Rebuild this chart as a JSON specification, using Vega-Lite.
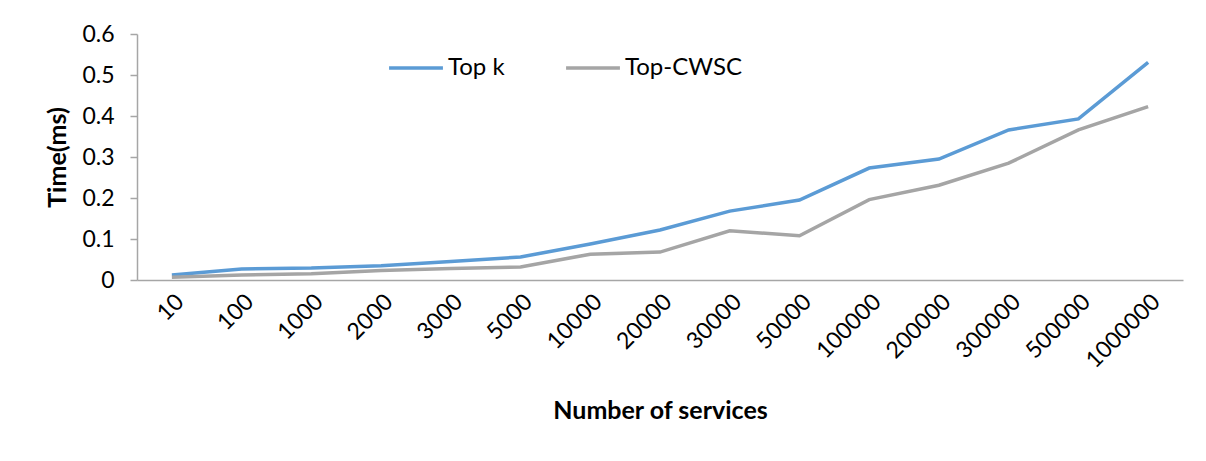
{
  "$schema": "https://vega.github.io/schema/vega-lite/v6.json",
  "autosize": "none",
  "width": 1046,
  "height": 246,
  "padding": {"left": 137, "top": 34, "right": 23, "bottom": 181},
  "background": "white",
  "config": {
    "font": "Lato",
    "view": {"stroke": null}
  },
  "data": {
    "values": [
      {"n": "10", "series": "Top k", "time": 0.012},
      {"n": "100", "series": "Top k", "time": 0.027},
      {"n": "1000", "series": "Top k", "time": 0.029},
      {"n": "2000", "series": "Top k", "time": 0.035},
      {"n": "3000", "series": "Top k", "time": 0.045},
      {"n": "5000", "series": "Top k", "time": 0.056},
      {"n": "10000", "series": "Top k", "time": 0.088},
      {"n": "20000", "series": "Top k", "time": 0.122},
      {"n": "30000", "series": "Top k", "time": 0.168},
      {"n": "50000", "series": "Top k", "time": 0.195},
      {"n": "100000", "series": "Top k", "time": 0.273},
      {"n": "200000", "series": "Top k", "time": 0.295},
      {"n": "300000", "series": "Top k", "time": 0.366},
      {"n": "500000", "series": "Top k", "time": 0.393},
      {"n": "1000000", "series": "Top k", "time": 0.531},
      {"n": "10", "series": "Top-CWSC", "time": 0.007},
      {"n": "100", "series": "Top-CWSC", "time": 0.012},
      {"n": "1000", "series": "Top-CWSC", "time": 0.015},
      {"n": "2000", "series": "Top-CWSC", "time": 0.023},
      {"n": "3000", "series": "Top-CWSC", "time": 0.028},
      {"n": "5000", "series": "Top-CWSC", "time": 0.032},
      {"n": "10000", "series": "Top-CWSC", "time": 0.063},
      {"n": "20000", "series": "Top-CWSC", "time": 0.068},
      {"n": "30000", "series": "Top-CWSC", "time": 0.12},
      {"n": "50000", "series": "Top-CWSC", "time": 0.108},
      {"n": "100000", "series": "Top-CWSC", "time": 0.196},
      {"n": "200000", "series": "Top-CWSC", "time": 0.231},
      {"n": "300000", "series": "Top-CWSC", "time": 0.285},
      {"n": "500000", "series": "Top-CWSC", "time": 0.366},
      {"n": "1000000", "series": "Top-CWSC", "time": 0.423}
    ]
  },
  "mark": {"type": "line", "strokeWidth": 3.5},
  "encoding": {
    "x": {
      "field": "n",
      "type": "ordinal",
      "sort": null,
      "scale": {"type": "point", "padding": 0.5},
      "axis": {
        "title": "Number of services",
        "titleFontSize": 25,
        "titleFontWeight": "bold",
        "titleColor": "black",
        "titlePadding": 26,
        "labelAngle": -45,
        "labelFontSize": 23,
        "labelColor": "black",
        "labelPadding": 10,
        "ticks": false,
        "domainColor": "#a6a6a6",
        "domainWidth": 1.5,
        "grid": false
      }
    },
    "y": {
      "field": "time",
      "type": "quantitative",
      "scale": {"domain": [0, 0.6]},
      "axis": {
        "title": "Time(ms)",
        "titleFontSize": 25,
        "titleFontWeight": "bold",
        "titleColor": "black",
        "titlePadding": 11,
        "values": [0, 0.1, 0.2, 0.3, 0.4, 0.5, 0.6],
        "format": ".1~f",
        "labelFontSize": 23,
        "labelColor": "black",
        "labelPadding": 16,
        "tickSize": 7,
        "tickColor": "#a6a6a6",
        "tickWidth": 1.5,
        "domainColor": "#a6a6a6",
        "domainWidth": 1.5,
        "grid": false
      }
    },
    "color": {
      "field": "series",
      "type": "nominal",
      "scale": {"domain": ["Top k", "Top-CWSC"], "range": ["#5b9bd5", "#a5a5a5"]},
      "legend": {
        "title": null,
        "orient": "none",
        "legendX": 250,
        "legendY": 5,
        "direction": "horizontal",
        "symbolType": "stroke",
        "symbolSize": 2900,
        "symbolStrokeWidth": 3.5,
        "labelFontSize": 24,
        "labelColor": "black",
        "labelOffset": 3,
        "columnPadding": 54
      }
    }
  }
}
